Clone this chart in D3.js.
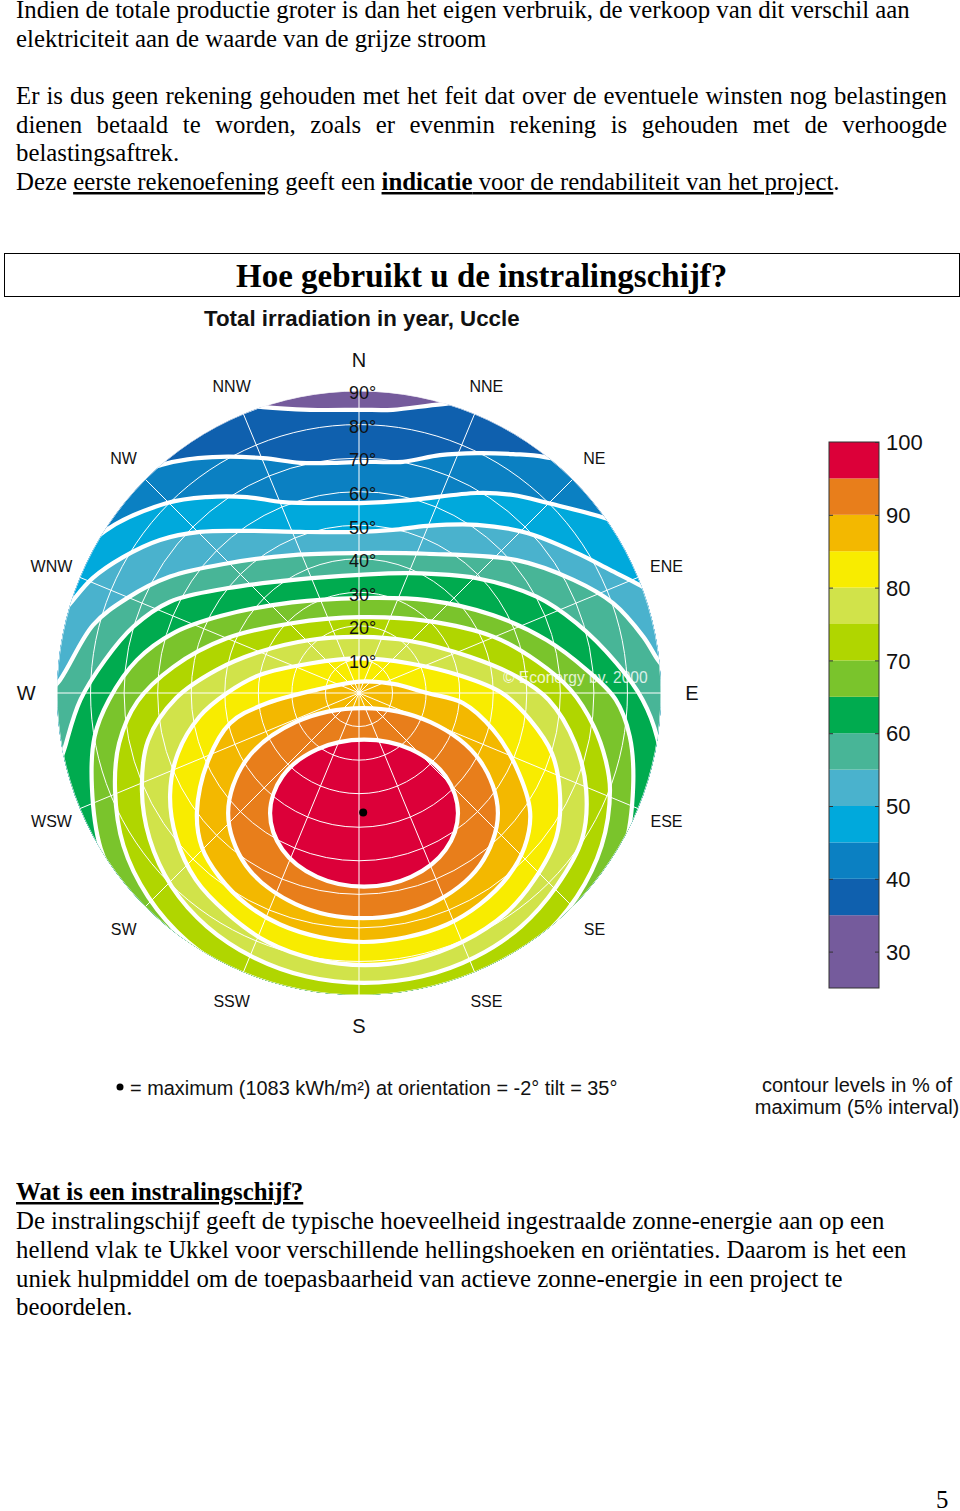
<!DOCTYPE html>
<html><head><meta charset="utf-8">
<script src="https://d3js.org/d3.v7.min.js"></script>
<style>html,body{margin:0;padding:0;background:#fff}svg{display:block}
.body{font-family:"Liberation Serif",serif;font-size:24.8px;fill:#000}
.lab{font-family:"Liberation Sans",sans-serif;fill:#111}</style>
</head><body><svg id="c" width="960" height="1511"></svg>
<script>
// contour lines as [east, north] components of the polar tilt axis (deg); beyond 90 lies past the horizon
const contour35=[[.3,84.4],[10.1,84.4],[25,86.1],[48,87.3],[116.5,-31.9],[0,-145],[-116,-31.9],[-53.4,88.8],[-28.6,85.2],[-14.6,84.4]];
const contour40=[[.3,68.9],[13.1,68.9],[24.1,70.9],[35.2,71.5],[45.9,71.2],[55.4,70.3],[77.8,63.5],[110.6,-31.9],[0,-139],[-110,-31.9],[-80.2,57.5],[-58.7,68],[-43.5,70.3],[-28.6,70],[-17.6,68.6],[-6.6,68.6]];
const contour45=[[.3,56.6],[15.2,57.5],[35.2,59.6],[45.9,59],[56.3,56.6],[73,52.2],[89.7,45.6],[107.6,-31.9],[0,-133],[-107,-31.9],[-92.1,30.7],[-75.7,48.3],[-57.2,56.6],[-45.3,58.4],[-33.4,58.4],[-22.7,56.9],[-7.7,56.6]];
const contour50=[[.3,48],[10.1,48.6],[20.3,49.8],[35.2,50.1],[50.1,47.7],[65,41.7],[74.8,36.7],[84.1,31.9],[95.7,24.7],[101.6,-31.9],[0,-127],[-101,-31.9],[-96.6,12.8],[-85.6,27.2],[-79.3,34.3],[-70.3,40.5],[-59.3,45.6],[-47.4,48],[-32.5,48.3],[-17.6,48]];
const contour55=[[.3,41.7],[20,41.5],[47,39.6],[63.9,33.7],[75.8,26.7],[84.7,16.8],[89.1,9.8],[95.7,.9],[98.7,-25.9],[86.7,-76.6],[0,-121],[-86,-76.6],[-98,-25.9],[-95,-3],[-89.1,3.9],[-79.2,20.3],[-69.2,28.2],[-56.3,34.7],[-39.4,38.6],[-19.6,41.1]];
const contour60=[[.3,35.2],[15.2,35.7],[35.1,34.2],[52.9,28.7],[64.8,20.8],[76.8,8.8],[84.5,-2],[88.8,-13.1],[91.2,-31.9],[80.8,-61.7],[42,-106],[0,-115],[-47.4,-106],[-83.2,-55.7],[-90.6,-28.9],[-87.3,-15],[-83,-2],[-75.7,9.8],[-67.2,19.8],[-56.3,27.2],[-39.4,31.2],[-19.6,33.7]];
const contour65=[[.3,28.3],[20.2,27.7],[40,23.2],[55.9,15.8],[67.8,6.9],[76.5,-2],[80.7,-13],[81.7,-28],[79.1,-46.3],[70.9,-63],[58.2,-79.1],[41.4,-88.7],[1,-98],[-39.3,-88.7],[-56,-79.1],[-68.9,-63],[-77,-46.3],[-79.6,-28],[-78.8,-13],[-74.5,-2],[-66.2,9.8],[-55,18],[-41,23],[-20,27]];
const contour70=[[.3,22.6],[20.2,21.5],[40,16.8],[53,9.5],[63,1],[70,-10],[73.5,-20],[74.8,-28.9],[72.3,-45.5],[64.9,-60.8],[53.2,-74.1],[37.9,-84.1],[20.1,-90.2],[1,-92.7],[-18.2,-90.2],[-35.8,-84.1],[-51.1,-74.1],[-62.8,-60.8],[-70.2,-45.5],[-72.7,-28.9],[-71.5,-15],[-66,-2.5],[-55.3,7.8],[-39.4,16.3],[-20,20.8]];
const contour75=[[.3,16.7],[15.2,15.5],[33,10.8],[47,4.9],[56.5,-2],[64.4,-15],[67.7,-28.9],[66.5,-43.5],[58.8,-57.7],[48.3,-69.6],[34.6,-78.7],[18.6,-84.5],[1.5,-86.4],[-15.6,-84.5],[-31.6,-78.7],[-45.3,-69.6],[-55.8,-57.7],[-62.4,-43.5],[-64.7,-28.9],[-62.8,-14],[-54.5,-1.5],[-42.4,6.9],[-29.5,12.3],[-14.6,15.8]];
const contour80=[[.3,10.3],[15.2,8.8],[30.1,5.2],[42.6,0],[51,-8],[57.5,-18],[59.9,-30.4],[58.8,-43],[52.2,-55.7],[43.8,-65.6],[30.8,-74.2],[16.8,-79.3],[1.8,-81.1],[-13.3,-79.3],[-27.3,-74.2],[-39.3,-65.6],[-48.6,-55.7],[-54.5,-43],[-56.3,-30.4],[-54,-18],[-47.5,-7],[-39.3,0],[-29.5,5.4],[-14.6,8.8]];
const contour85=[[.3,3.4],[10.2,2.7],[20.3,0],[31,-3],[40,-11],[46.8,-22],[51,-35.5],[49.3,-46],[44.3,-54.8],[36,-63],[26.2,-69],[14,-72.8],[1.3,-74.2],[-11.5,-72.8],[-23.5,-69],[-33.5,-63],[-41.6,-54.8],[-46.8,-46],[-48.3,-35.5],[-44.9,-20],[-38.4,-9],[-28.6,-3.5],[-12.5,1]];
const contour90=[[41.4,-35.8],[36,-51.4],[21.3,-62.9],[1.2,-67.1],[-18.9,-62.9],[-33.7,-51.4],[-39,-35.8],[-33.7,-20.1],[-18.9,-8.7],[1.2,-4.5],[21.3,-8.7],[36,-20.1]];
const contour95=[[29.5,-35.8],[25.8,-46.7],[15.5,-54.8],[1.5,-57.7],[-12.5,-54.8],[-22.8,-46.7],[-26.5,-35.8],[-22.8,-24.8],[-12.5,-16.8],[1.5,-13.9],[15.5,-16.8],[25.8,-24.8]];

const levelColors=["#755b9c","#0f60ae","#0b80c2","#00a9dc","#4ab2cd","#48b597","#00ab4f","#7ac42c","#b0d600","#d1e34a","#f8ec00","#f3b800","#e87e1b","#dc0039"];
const levelEdges=[25,35,40,45,50,55,60,65,70,75,80,85,90,95,100];
const contours=[contour35,contour40,contour45,contour50,contour55,contour60,contour65,contour70,contour75,contour80,contour85,contour90,contour95];
const tiltRings=[10,20,30,40,50,60,70,80,90];
const compass=["N","NNE","NE","ENE","E","ESE","SE","SSE","S","SSW","SW","WSW","W","WNW","NW","NNW"];
const majorCompass=["N","E","S","W"];
const legendTicks=[100,90,80,70,60,50,40,30];
const maximum={orientation:-2,tilt:35.6};

const textTop=[["Indien de totale productie groter is dan het eigen verbruik, de verkoop van dit verschil aan",18],
["elektriciteit aan de waarde van de grijze stroom",47],
["Er is dus geen rekening gehouden met het feit dat over de eventuele winsten nog belastingen",104,947],
["dienen betaald te worden, zoals er evenmin rekening is gehouden met de verhoogde",133,947],
["belastingsaftrek.",161]];
const textBottom=[["De instralingschijf geeft de typische hoeveelheid ingestraalde zonne-energie aan op een",1229],
["hellend vlak te Ukkel voor verschillende hellingshoeken en oriëntaties. Daarom is het een",1258],
["uniek hulpmiddel om de toepasbaarheid van actieve zonne-energie in een project te",1287],
["beoordelen.",1315]];

const svg=d3.select("#c");
const cx=359,cy=693;
const r=d3.scaleLinear().domain([0,90]).range([0,302]);
const ex=d3.scaleLinear().domain([-90,90]).range([-302,302]);
const ny=d3.scaleLinear().domain([-90,90]).range([302,-302]);
const rad=d3.scaleLinear().domain([0,360]).range([0,2*Math.PI]);
const disk=svg.append("g").attr("transform",`translate(${cx},${cy})`);
svg.append("defs").append("clipPath").attr("id","hor").append("circle").attr("r",r(90));
const area=disk.append("g").attr("clip-path","url(#hor)");
area.append("circle").attr("r",r(90)).attr("fill",levelColors[0]);
const line=d3.line().x(d=>ex(d[0])).y(d=>ny(d[1])).curve(d3.curveCatmullRomClosed.alpha(0.5));
area.selectAll("path.c").data(contours).join("path").attr("class","c").attr("d",line)
 .attr("fill",(d,i)=>levelColors[i+1]).attr("stroke","#fff").attr("stroke-width",4.2).attr("stroke-linejoin","round");
area.selectAll("circle.ring").data(tiltRings).join("circle").attr("class","ring").attr("r",d=>r(d)).attr("fill","none").attr("stroke","#fff").attr("stroke-width",1);
area.selectAll("line.ray").data(compass).join("line").attr("class","ray")
 .attr("x2",(d,i)=>r(90)*Math.sin(rad(i*22.5))).attr("y2",(d,i)=>-r(90)*Math.cos(rad(i*22.5))).attr("stroke","#fff").attr("stroke-width",1);
disk.selectAll("text.cmp").data(compass).join("text").attr("class","lab cmp")
 .attr("x",(d,i)=>r(99.2)*Math.sin(rad(i*22.5))).attr("y",(d,i)=>-r(99.2)*Math.cos(rad(i*22.5)))
 .attr("dy",d=>majorCompass.includes(d)?".36em":".42em").attr("text-anchor","middle").attr("font-size",d=>majorCompass.includes(d)?20:16).text(d=>d);
disk.selectAll("text.tilt").data(tiltRings).join("text").attr("class","lab tilt")
 .attr("x",-10).attr("y",d=>-r(d)).attr("dy",".46em").attr("font-size",18).text(d=>d+"°");
disk.append("text").attr("class","lab").attr("x",144).attr("y",-10).attr("font-size",15.6).style("fill","#fff").attr("opacity",.8).text("© Econergy bv. 2000");
disk.append("circle").attr("r",4).attr("fill","#000")
 .attr("cx",r(maximum.tilt)*Math.sin(rad(180+maximum.orientation))).attr("cy",-r(maximum.tilt)*Math.cos(rad(180+maximum.orientation)));

// colour bar
const ly=d3.scaleLinear().domain([100,25]).range([442,988]);
const bar=svg.append("g");
bar.selectAll("rect").data(levelColors).join("rect").attr("x",829).attr("width",50)
 .attr("y",(d,i)=>ly(levelEdges[i+1])).attr("height",(d,i)=>ly(levelEdges[i])-ly(levelEdges[i+1])).attr("fill",d=>d);
bar.append("rect").attr("x",829).attr("y",442).attr("width",50).attr("height",546).attr("fill","none").attr("stroke","#333").attr("stroke-width",1);
const ax=d3.axisRight(ly).tickValues(legendTicks).tickSize(-4).tickPadding(7).tickFormat(d3.format("d"));
const axg=svg.append("g").attr("transform","translate(879,0)").call(ax);
axg.select(".domain").remove();
axg.selectAll("text").attr("class","lab").attr("font-size",22).attr("dy",".35em").style("font-family","Liberation Sans").style("fill","#111");
axg.selectAll("line").attr("stroke","#333");
const axl=d3.axisLeft(ly).tickValues(legendTicks.slice(1)).tickSize(-4).tickFormat("");
const axlg=svg.append("g").attr("transform","translate(829,0)").call(axl);axlg.select(".domain").remove();axlg.selectAll("line").attr("stroke","#333");

// texts
function addLines(rows){rows.forEach(([s,y,to])=>{const t=svg.append("text").attr("class","body").attr("x",16).attr("y",y).text(s);
 if(to){const w=t.node().getComputedTextLength();t.attr("word-spacing",(to-16-w)/(s.split(" ").length-1));}});}
addLines(textTop);addLines(textBottom);
const u=svg.append("text").attr("class","body").attr("x",16).attr("y",190);
u.append("tspan").text("Deze ");
u.append("tspan").attr("text-decoration","underline").text("eerste rekenoefening");
u.append("tspan").text(" geeft een ");
u.append("tspan").attr("text-decoration","underline").attr("font-weight","bold").text("indicatie");
u.append("tspan").attr("text-decoration","underline").text(" voor de rendabiliteit van het project");
u.append("tspan").text(".");
svg.append("text").attr("class","body").attr("x",16).attr("y",1200).attr("font-weight","bold").attr("text-decoration","underline").text("Wat is een instralingschijf?");
svg.append("text").attr("class","body").attr("x",936).attr("y",1508).text("5");
svg.append("rect").attr("x",4.5).attr("y",253.5).attr("width",955).attr("height",43).attr("fill","none").attr("stroke","#000").attr("stroke-width",1);
svg.append("text").attr("x",236).attr("y",287).style("font-family","Liberation Serif").attr("font-weight","bold").attr("font-size",33).text("Hoe gebruikt u de instralingschijf?");
svg.append("text").attr("class","lab").attr("x",204).attr("y",326).attr("font-weight","bold").attr("font-size",22.3).text("Total irradiation in year, Uccle");
svg.append("circle").attr("cx",120).attr("cy",1087).attr("r",3.5).attr("fill","#000");
svg.append("text").attr("class","lab").attr("x",130).attr("y",1095).attr("font-size",19.9).text("= maximum (1083 kWh/m²) at orientation = -2° tilt = 35°");
svg.append("text").attr("class","lab").attr("x",857).attr("y",1092).attr("text-anchor","middle").attr("font-size",20).text("contour levels in % of");
svg.append("text").attr("class","lab").attr("x",857).attr("y",1114).attr("text-anchor","middle").attr("font-size",20).text("maximum (5% interval)");
</script></body></html>
